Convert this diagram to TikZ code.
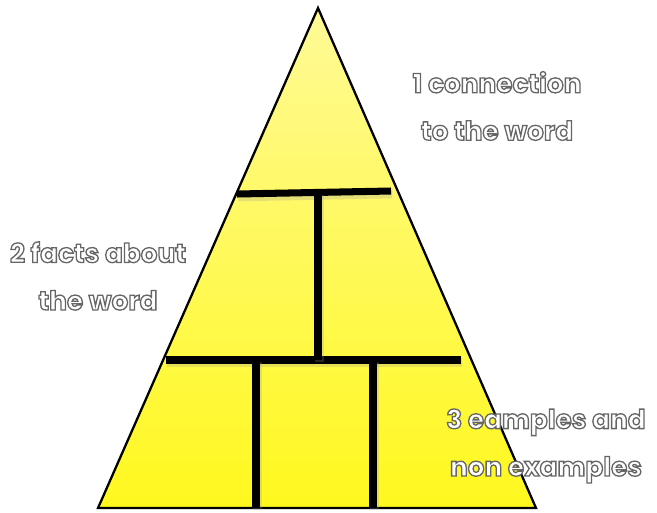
\documentclass[tikz,border=0pt]{standalone}
\usepackage{fontspec}
\setmainfont{Poppins}
\usepackage{xcolor}
\usetikzlibrary{positioning}
\definecolor{pyrtop}{RGB}{255, 250, 150}
\definecolor{pyrbottom}{RGB}{255, 248, 30}

% white letters with a grey rim
\newcommand{\glow}[1]{\special{pdf:literal direct 2 Tr 0.75 w 0.4 G}#1\special{pdf:literal direct 0 Tr}}

\begin{document}
\begin{tikzpicture}[x=0.02cm, y=-0.02cm, every node/.style={align=center, font=\bfseries\fontsize{15}{27}\selectfont, text=white},
  bar/.style={line width=4pt, preaction={draw, black!40, opacity=0.25, line width=5.5pt, transform canvas={shift={(0.8pt,-1.4pt)}}}}]
\useasboundingbox (0,0) rectangle (657,512);

% Corners
\coordinate (apex) at (318,8);
\coordinate (left) at (98,508);
\coordinate (right) at (536,508);

% Pyramid
\shade[top color=pyrtop, bottom color=pyrbottom, draw=black, line width=1.3pt, line join=miter] (apex) -- (right) -- (left) -- cycle;

% Dividers
\coordinate (topL) at (237,194);
\coordinate (topR) at (391,191);
\coordinate (midL) at (166,360);
\coordinate (midR) at (461,360);
\draw[bar] (topL) -- (topR);
\draw[bar] (midL) -- (midR);
\draw[bar] (318,193) -- (318,360);
\draw[bar] (256,360) -- (256,508);
\draw[bar] (373,360) -- (373,508);

% Labels
\node (one) at (497,106) {\glow{1 connection}\\\glow{to the word}};
\node (two) at (98,276) {\glow{2 facts about}\\\glow{the word}};
\node (three) at (546,446) {\glow{3 eamples and}\\\glow{non examples}};
\end{tikzpicture}
\end{document}
